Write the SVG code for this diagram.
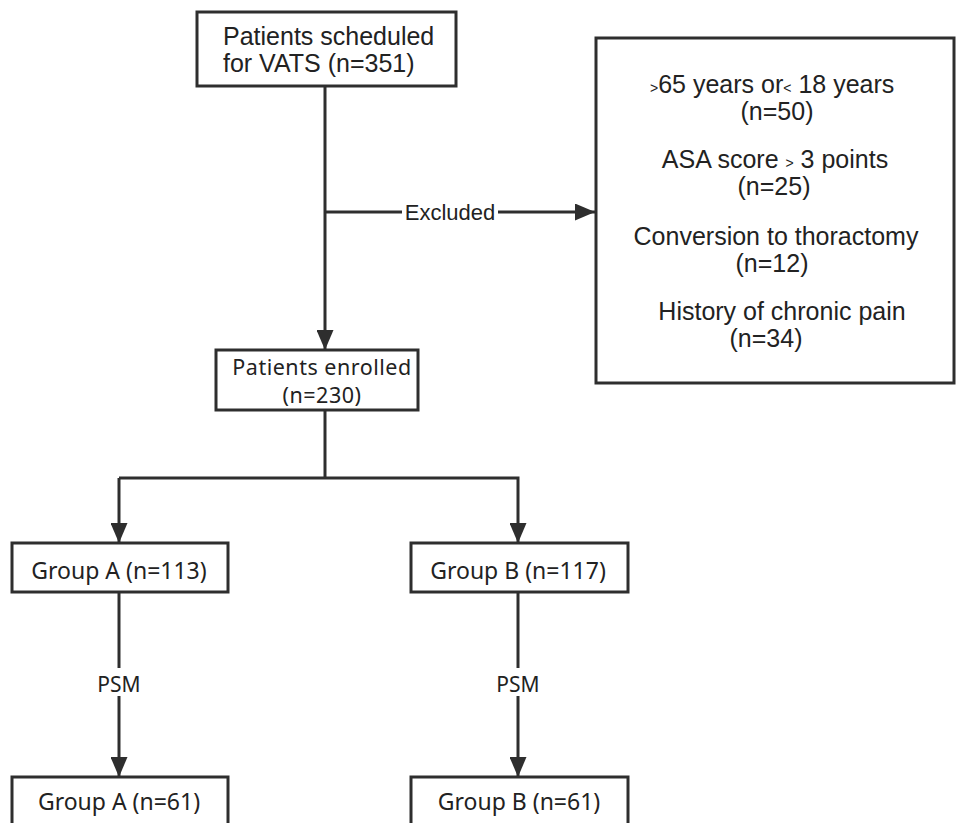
<svg xmlns="http://www.w3.org/2000/svg" width="956" height="823" viewBox="0 0 956 823">
<style>
.box{fill:#fff;stroke:#2e2e2e;stroke-width:3}
.ln{fill:none;stroke:#2e2e2e;stroke-width:3}
.a{font-family:"Liberation Sans",Arial,sans-serif;font-size:25px;fill:#222}
.s{font-family:"Noto Sans","Open Sans",sans-serif;font-size:23px;fill:#222}
.m{text-anchor:middle}
</style>
<defs>
<marker id="ah" viewBox="0 0 20 17" refX="20" refY="8.5" markerWidth="20" markerHeight="17" markerUnits="userSpaceOnUse" orient="auto">
<path d="M0,0 L20,8.5 L0,17 Z" fill="#2e2e2e"/>
</marker>
</defs>
<rect width="956" height="823" fill="#fff"/>
<g id="connectors">
<line class="ln" x1="325" y1="86" x2="325" y2="350" marker-end="url(#ah)"/>
<line class="ln" x1="325" y1="212" x2="595" y2="212" marker-end="url(#ah)"/>
<rect x="402" y="198" width="96" height="28" fill="#fff"/>
<text class="a m" x="450" y="220" style="font-size:22px">Excluded</text>
<line class="ln" x1="325" y1="410" x2="325" y2="478"/>
<path class="ln" d="M119,478 L518,478 L518,543" marker-end="url(#ah)"/>
<line class="ln" x1="119" y1="478" x2="119" y2="543" marker-end="url(#ah)"/>
<line class="ln" x1="119" y1="592" x2="119" y2="777" marker-end="url(#ah)"/>
<line class="ln" x1="518" y1="592" x2="518" y2="777" marker-end="url(#ah)"/>
<rect x="94" y="668" width="50" height="28" fill="#fff"/>
<text class="s m" x="119" y="692" style="font-size:21px">PSM</text>
<rect x="493" y="668" width="50" height="28" fill="#fff"/>
<text class="s m" x="518" y="692" style="font-size:21px">PSM</text>
</g>
<g id="n-scheduled">
<rect class="box" x="197" y="12" width="259" height="74"/>
<text class="a" x="223" y="45">Patients scheduled</text>
<text class="a" x="223" y="72">for VATS (n=351)</text>
</g>
<g id="n-excluded">
<rect class="box" x="596" y="38" width="358" height="345"/>
<text class="a" x="650" y="93"><tspan style="font-size:14px">&gt;</tspan>65 years or<tspan style="font-size:14px">&lt;</tspan> 18 years</text>
<text class="a m" x="777" y="120">(n=50)</text>
<text class="a m" x="775" y="168">ASA score <tspan style="font-size:14px">&gt;</tspan> 3 points</text>
<text class="a m" x="774" y="195">(n=25)</text>
<text class="a m" x="776" y="245">Conversion to thoractomy</text>
<text class="a m" x="772" y="272">(n=12)</text>
<text class="a m" x="782" y="320">History of chronic pain</text>
<text class="a m" x="766" y="347">(n=34)</text>
</g>
<g id="n-enrolled">
<rect class="box" x="216" y="350" width="202" height="60"/>
<text class="s m" x="322" y="375" style="font-size:21.5px;letter-spacing:0.5px">Patients enrolled</text>
<text class="s m" x="322" y="403" style="font-size:21.5px;letter-spacing:0.5px">(n=230)</text>
</g>
<g id="n-groupA">
<rect class="box" x="12" y="543" width="216" height="49"/>
<text class="s m" x="119" y="579">Group A (n=113)</text>
</g>
<g id="n-groupB">
<rect class="box" x="411" y="543" width="217" height="49"/>
<text class="s m" x="518" y="579">Group B (n=117)</text>
</g>
<g id="n-groupA61">
<rect class="box" x="12" y="777" width="216" height="60"/>
<text class="s m" x="119" y="810">Group A (n=61)</text>
</g>
<g id="n-groupB61">
<rect class="box" x="411" y="777" width="217" height="60"/>
<text class="s m" x="519" y="810">Group B (n=61)</text>
</g>
</svg>
